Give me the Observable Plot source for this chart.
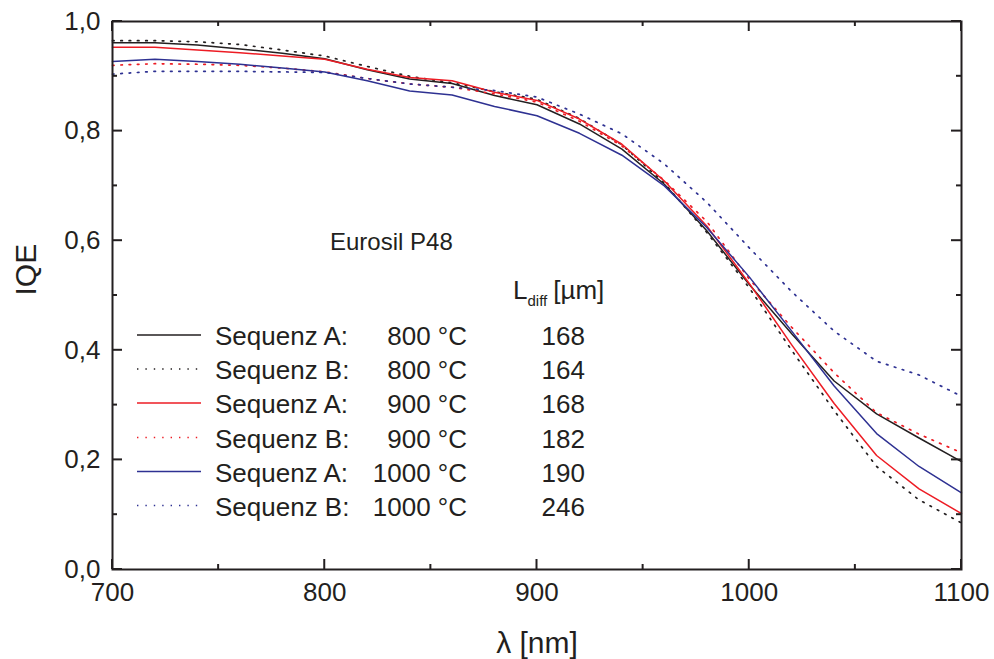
<!DOCTYPE html>
<html>
<head>
<meta charset="utf-8">
<script src="https://cdn.jsdelivr.net/npm/d3@7"></script>
<script src="https://cdn.jsdelivr.net/npm/@observablehq/plot@0.6"></script>
<style>
  html, body { margin: 0; padding: 0; background: #fff; }
  svg { display: block; }
</style>
</head>
<body>
<div id="chart"></div>
<script>
// ---- data ----
const wavelength = [700,720,740,760,780,800,820,840,860,880,900,920,940,960,980,1000,1020,1040,1060,1080,1100];
const seqA800  = [0.961,0.961,0.957,0.950,0.942,0.932,0.912,0.895,0.887,0.865,0.848,0.813,0.767,0.703,0.618,0.520,0.430,0.344,0.284,0.240,0.197];
const seqB800  = [0.965,0.965,0.963,0.958,0.948,0.937,0.918,0.900,0.888,0.872,0.858,0.823,0.775,0.705,0.615,0.514,0.400,0.290,0.188,0.127,0.085];
const seqA900  = [0.953,0.953,0.948,0.943,0.937,0.931,0.913,0.898,0.892,0.871,0.856,0.822,0.776,0.709,0.627,0.522,0.410,0.303,0.208,0.147,0.102];
const seqB900  = [0.920,0.923,0.922,0.920,0.915,0.908,0.896,0.886,0.880,0.868,0.853,0.818,0.773,0.710,0.635,0.530,0.442,0.359,0.286,0.247,0.213];
const seqA1000 = [0.927,0.931,0.927,0.922,0.915,0.908,0.892,0.873,0.866,0.845,0.828,0.796,0.756,0.700,0.624,0.534,0.435,0.335,0.248,0.188,0.140];
const seqB1000 = [0.904,0.909,0.909,0.909,0.908,0.907,0.896,0.886,0.880,0.874,0.862,0.831,0.795,0.740,0.670,0.587,0.507,0.435,0.380,0.355,0.316];

const seriesNames = ["Sequenz A:", "Sequenz B:", "Sequenz A:", "Sequenz B:", "Sequenz A:", "Sequenz B:"];
const seriesTemps = ["800 °C", "800 °C", "900 °C", "900 °C", "1000 °C", "1000 °C"];
const seriesLdiff = ["168", "164", "168", "182", "190", "246"];
const seriesValues = [seqA800, seqB800, seqA900, seqB900, seqA1000, seqB1000];
const seriesColors = ["#231f20", "#231f20", "#ed1c24", "#ed1c24", "#2e3192", "#2e3192"];
const seriesDotted = [false, true, false, true, false, true];

const xMajor = [700, 800, 900, 1000, 1100];
const xMinor = [750, 850, 950, 1050];
const yMajor = [0, 0.2, 0.4, 0.6, 0.8, 1.0];
const yMinor = [0.1, 0.3, 0.5, 0.7, 0.9];

const annotation = "Eurosil P48";
const xLabel = "λ [nm]";
const yLabel = "IQE";

// ---- styling / layout ----
const ink = "#231f20";
const font = "'Liberation Sans', Arial, Helvetica, sans-serif";
const dotDash = "1.6,6.7";
const comma = d => d3.format(".1f")(d).replace(".", ",");

const W = 994, H = 659;
const mL = 112, mR = 33, mT = 21, mB = 90;
const MAJ = 10, MIN = 5;

const table = seriesValues.map((vals, i) =>
  wavelength.map((w, j) => ({series: i, x: w, y: vals[j]}))
);

const lineMarks = table.map((rows, i) =>
  Plot.line(rows, {
    x: "x", y: "y",
    stroke: seriesColors[i],
    strokeWidth: seriesDotted[i] ? 1.7 : 1.5,
    strokeDasharray: seriesDotted[i] ? dotDash : null,
    strokeLinejoin: "round"
  })
);

const plot = Plot.plot({
  width: W,
  height: H,
  marginLeft: mL,
  marginRight: mR,
  marginTop: mT,
  marginBottom: mB,
  x: {domain: [700, 1100]},
  y: {domain: [0, 1]},
  style: {fontFamily: font, color: ink, background: "white", overflow: "visible"},
  marks: [
    ...lineMarks,
    Plot.axisX(xMajor, {anchor: "bottom", tickSize: 0, tickPadding: 13, fontSize: 26, label: null, tickFormat: d => String(d)}),
    Plot.axisY(yMajor, {anchor: "left", tickSize: 0, tickPadding: 12, fontSize: 26, label: null, tickFormat: comma}),
    Plot.frame({stroke: ink, strokeWidth: 2}),
    Plot.text([xLabel], {frameAnchor: "bottom", dy: 74, fontSize: 30, fill: ink, lineAnchor: "middle"}),
    Plot.text([yLabel], {frameAnchor: "left", dx: -86, rotate: -90, fontSize: 30, fill: ink, lineAnchor: "middle"})
  ]
});

document.getElementById("chart").appendChild(plot);

// ---- inward ticks on all four sides, positioned by the plot's own scales ----
const sx = plot.scale("x"), sy = plot.scale("y");
const [x0, x1] = sx.range, [y0, y1] = sy.range; // y0 bottom, y1 top
const svg = d3.select(plot);
const tg = svg.append("g").attr("stroke", ink).attr("stroke-width", 2);
function xt(vals, len) {
  vals.forEach(v => {
    const px = sx.apply(v);
    tg.append("line").attr("x1", px).attr("x2", px).attr("y1", y0).attr("y2", y0 - len);
    tg.append("line").attr("x1", px).attr("x2", px).attr("y1", y1).attr("y2", y1 + len);
  });
}
function yt(vals, len) {
  vals.forEach(v => {
    const py = sy.apply(v);
    tg.append("line").attr("x1", x0).attr("x2", x0 + len).attr("y1", py).attr("y2", py);
    tg.append("line").attr("x1", x1).attr("x2", x1 - len).attr("y1", py).attr("y2", py);
  });
}
xt(xMajor, MAJ); xt(xMinor, MIN); yt(yMajor, MAJ); yt(yMinor, MIN);

// ---- annotation and legend (layout overlay) ----
const g = svg.append("g").attr("font-family", font).attr("fill", ink).attr("text-anchor", "start");

g.append("text").attr("x", 330).attr("y", 250).attr("font-size", 24).text(annotation);

const hdr = g.append("text").attr("x", 513).attr("y", 299).attr("font-size", 26);
hdr.append("tspan").text("L");
hdr.append("tspan").attr("font-size", 15).attr("dy", 7).text("diff");
hdr.append("tspan").attr("dy", -7).attr("dx", 6).text("[µm]");

const rowY = [335, 369, 403, 437.5, 471.5, 505.5];
seriesNames.forEach((name, i) => {
  const y = rowY[i];
  g.append("line")
    .attr("x1", 137).attr("x2", 201).attr("y1", y).attr("y2", y)
    .attr("stroke", seriesColors[i])
    .attr("stroke-width", seriesDotted[i] ? 1.4 : 1.3)
    .attr("stroke-dasharray", seriesDotted[i] ? "1.4,7" : null);
  g.append("text").attr("x", 215).attr("y", y + 10).attr("font-size", 26).text(name);
  g.append("text").attr("x", 467).attr("y", y + 10).attr("font-size", 26).attr("text-anchor", "end").text(seriesTemps[i]);
  g.append("text").attr("x", 585).attr("y", y + 10).attr("font-size", 26).attr("text-anchor", "end").text(seriesLdiff[i]);
});
</script>
</body>
</html>
